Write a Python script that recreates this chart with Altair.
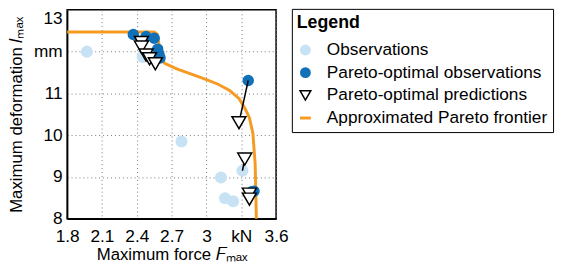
import altair as alt
import pandas as pd

SERIES = ["Observations", "Pareto-optimal observations",
          "Pareto-optimal predictions", "Approximated Pareto frontier"]

obs_x = [1.97, 2.45, 2.785, 3.125, 3.16, 3.23, 3.31]
obs_y = [12.0, 11.87, 9.85, 8.99, 8.49, 8.42, 9.15]

par_x = [2.37, 2.48, 2.55, 2.58, 2.59, 2.60, 3.36, 3.41, 3.39]
par_y = [12.41, 12.36, 12.32, 12.06, 11.95, 11.85, 11.31, 8.66, 8.65]

pred_x = [2.44, 2.44, 2.48, 2.51, 2.56, 3.28, 3.33, 3.37, 3.37]
pred_y = [12.22, 12.11, 11.92, 11.83, 11.71, 10.30, 9.43, 8.59, 8.47]

front_x = [1.8, 2.55, 2.575, 2.59, 2.60, 2.64, 2.75, 2.9, 3.0, 3.1, 3.2,
           3.28, 3.33, 3.37, 3.40, 3.42, 3.43]
front_y = [12.47, 12.47, 12.42, 12.2, 11.9, 11.72, 11.58, 11.43, 11.33,
           11.22, 11.07, 10.88, 10.65, 10.42, 10.05, 9.3, 8.0]

conn_pair = [0, 0, 1, 1]
conn_x = [3.36, 3.28, 3.31, 3.33]
conn_y = [11.31, 10.30, 9.15, 9.43]

x_ticks = [1.8, 2.1, 2.4, 2.7, 3.0, 3.3, 3.6]
y_ticks = [8, 9, 10, 11, 12, 13]

FILL = ["#c8e2f5", "#1070b8", "white", "transparent"]
STROKE = ["#c8e2f5", "#1070b8", "black", "#f59b23"]
SHAPE = ["circle", "circle", "triangle-down", "stroke"]
WIDTH = [0, 0, 1.5, 3]

FONT = "Liberation Sans"

obs = pd.DataFrame({"x": obs_x, "y": obs_y, "s": SERIES[0]})
par = pd.DataFrame({"x": par_x, "y": par_y, "s": SERIES[1]})
pred = pd.DataFrame({"x": pred_x, "y": pred_y, "s": SERIES[2]})
front = pd.DataFrame({"x": front_x, "y": front_y, "s": SERIES[3],
                      "o": list(range(len(front_x)))})
conn = pd.DataFrame({"x": conn_x, "y": conn_y, "p": conn_pair,
                     "o": list(range(len(conn_x)))})

x_enc = alt.X("x:Q", scale=alt.Scale(domain=[1.8, 3.6], nice=False),
              axis=alt.Axis(values=x_ticks, title="Maximum force 𝐹ₘₐₓ",
                            labelOverlap=False, labelFlush=False,
                            labelPadding=9, titlePadding=2,
                            labelExpr="abs(datum.value-3.3)<0.01 ? 'kN' : format(datum.value, '~g')"))
y_enc = alt.Y("y:Q", scale=alt.Scale(domain=[8, 13], nice=False),
              axis=alt.Axis(values=y_ticks, title="Maximum deformation 𝑙ₘₐₓ",
                            labelOverlap=False, labelFlush=False,
                            labelPadding=5, titlePadding=8,
                            labelBaseline={"condition": {"test": "datum.value == 13", "value": "top"},
                                           "value": "middle"},
                            labelExpr="datum.value == 12 ? 'mm' : format(datum.value, '~g')"))

LEG = alt.Legend(title="Legend", orient="none", legendX=228, legendY=-1)

def sc(rng):
    return alt.Scale(type="ordinal", domain=SERIES, range=rng)

def points(df, size):
    return alt.Chart(df).mark_point(filled=True, size=size, opacity=1).encode(
        x=x_enc, y=y_enc,
        fill=alt.Fill("s:N", scale=sc(FILL), legend=LEG),
        stroke=alt.Stroke("s:N", scale=sc(STROKE), legend=LEG),
        shape=alt.Shape("s:N", scale=sc(SHAPE), legend=LEG),
        strokeWidth=alt.StrokeWidth("s:N", scale=sc(WIDTH), legend=LEG),
    )

front_layer = alt.Chart(front).mark_line().encode(
    x=x_enc, y=y_enc, order="o:Q",
    stroke=alt.Stroke("s:N", scale=sc(STROKE), legend=LEG),
    strokeWidth=alt.StrokeWidth("s:N", scale=sc(WIDTH), legend=LEG),
)

conn_layer = alt.Chart(conn).mark_line(color="black", strokeWidth=1.5).encode(
    x=x_enc, y=y_enc, detail="p:N", order="o:Q",
)

chart = alt.layer(
    points(obs, 150),
    front_layer,
    points(par, 135),
    conn_layer,
    points(pred, 200),
).properties(
    width=212, height=212,
    autosize=alt.AutoSizeParams(type="none"),
    padding={"left": 60, "top": 0, "right": 285, "bottom": 46},
).configure_view(
    stroke="black", strokeWidth=1.5
).configure_axis(
    labelFont=FONT, titleFont=FONT, labelFontSize=17.5, titleFontSize=17,
    labelColor="black", titleColor="black", titleFontWeight="normal",
    domainColor="black", domainWidth=1.5, ticks=False,
    gridColor="#777", gridDash=[1, 3], gridWidth=1,
).configure_legend(
    titleFont=FONT, labelFont=FONT, titleFontSize=18, titleFontWeight="bold",
    labelFontSize=17.5, titleColor="black", labelColor="black",
    strokeColor="black", fillColor="white", padding=5, rowPadding=4,
    symbolSize=120, labelOffset=13, titlePadding=10, labelLimit=400,
)

chart.save("out.html", embed_options={"renderer": "svg", "actions": False})
